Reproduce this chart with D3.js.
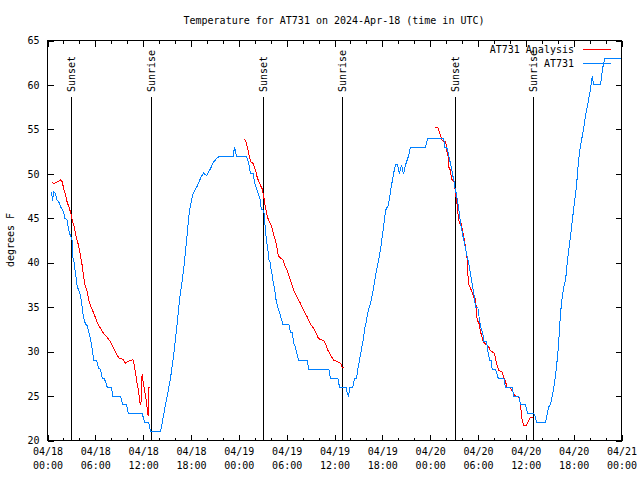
<!DOCTYPE html>
<html><head><meta charset="utf-8">
<script src="https://cdn.jsdelivr.net/npm/d3@7"></script>
<style>
body{margin:0;background:#fff}
svg{display:block}
text{font-family:"DejaVu Sans Mono","Liberation Mono",monospace;font-size:10px;fill:#000}
</style></head><body>
<svg id="c" width="640" height="480"></svg>
<script>
const title = "Temperature for AT731 on 2024-Apr-18 (time in UTC)";
const yLabel = "degrees F";
const startTime = "2024-04-18T00:00:00Z";
const endTime = "2024-04-21T00:00:00Z";
const yTicks = [20, 25, 30, 35, 40, 45, 50, 55, 60, 65];
const xTickHours = [0, 6, 12, 18, 24, 30, 36, 42, 48, 54, 60, 66, 72];
const xMinorHours = [2, 4, 8, 10, 14, 16, 20, 22, 26, 28, 32, 34, 38, 40, 44, 46, 50, 52, 56, 58, 62, 64, 68, 70];
const seriesNames = ["AT731 Analysis", "AT731"];
const seriesColors = ["#ff0000", "#0080ff"];
const sunLabels = ["Sunset", "Sunrise", "Sunset", "Sunrise", "Sunset", "Sunrise"];
const sunHours = [3.01, 13.05, 27.1, 37.0, 51.2, 60.95];

// AT731 observations (hours after start, degrees F)
const obsHours = [0.50,0.63,0.79,1.00,1.22,1.44,1.63,1.88,2.04,2.17,2.47,2.67,2.89,3.10,3.11,3.30,3.51,3.73,3.93,4.14,4.23,4.43,4.55,4.77,4.98,5.18,5.39,5.61,5.81,6.15,6.44,6.65,6.86,7.11,7.36,7.49,8.03,8.19,9.16,9.45,9.91,10.16,11.88,12.21,12.71,12.92,14.17,14.39,14.59,14.80,15.02,15.22,15.43,15.81,16.18,16.56,17.06,17.44,17.81,18.19,18.82,19.19,19.57,19.94,20.45,20.82,21.20,21.58,22.96,23.29,23.46,23.71,24.96,25.25,25.46,25.80,25.97,26.22,26.51,26.72,26.81,27.13,27.22,27.35,27.47,27.63,27.76,27.97,28.06,28.26,28.31,28.47,28.60,28.89,29.14,29.32,29.52,30.27,30.48,30.77,30.82,31.11,31.32,31.52,32.58,32.78,35.29,35.50,36.42,36.63,37.47,37.59,37.76,37.92,38.30,38.51,38.76,38.92,39.17,39.35,39.60,39.80,40.01,40.18,40.30,40.52,40.77,41.14,41.52,41.77,42.15,42.40,42.77,43.02,43.40,43.65,43.90,44.15,44.40,44.66,44.91,45.28,45.53,47.42,47.70,49.71,49.80,50.05,50.21,50.34,50.46,50.64,50.84,50.97,51.09,51.27,51.39,51.52,51.68,51.81,52.02,52.22,52.43,52.65,52.85,53.06,53.27,53.48,53.69,53.98,54.19,54.40,54.61,54.73,55.07,55.23,55.48,55.66,55.78,56.20,56.54,57.24,57.45,58.29,58.49,59.12,59.33,59.96,60.25,61.00,61.21,61.34,62.47,62.68,62.88,63.10,63.31,63.51,63.72,63.85,64.01,64.14,64.26,64.35,64.56,64.77,64.98,65.23,65.61,65.98,66.36,66.61,66.86,67.24,67.49,67.86,68.11,68.33,68.49,69.37,69.58,69.74,69.93,71.88];
const obsTemps = [48,47,48,47.8,47,46.8,46.3,46,45.6,45,44.8,43.6,43,42.5,40.8,40.3,38.8,37.3,36.9,36.3,35.8,34.4,33.7,33.1,32.9,32.2,31.4,30.3,29,29,28.1,28,27,27,26.4,26,26,25,25,24,24,23,23,22,22,21,21,22,23,24,25,26,27,29.5,32.4,35.8,39.1,42.5,45.9,47.6,48.7,49.5,50.1,49.8,50.6,51.3,51.7,52,52,52,53,52,52,51.1,50,50,49,48.3,47.6,47,46,45.9,44.8,43.6,42.5,41.6,40.4,39.9,39.1,38.4,37.6,37.3,36.1,35,34.3,33.7,33.1,33.1,32.2,32.1,31.1,30.5,29.6,29,29,28,28,27,27,26,26,25.4,25,26,26,27,27,28,29.2,30.1,31.3,32.6,33.5,34.4,34.8,35.4,36.5,38.5,40.2,41.5,44,45.9,46.5,48,50,51,51,50,51,50,51,52,53,53,54,54,53,53,52.6,52,51.5,50.8,49.8,49.3,48.5,47.8,47.2,46.4,45.5,44.4,43.4,42.5,41.6,40.6,39.9,38.8,37.6,36.5,35,35,33.5,32.6,32,31.1,31.1,30.1,29,29,28,28,27,27,26,26,25,25,24,24,23,23,22.6,22,22,23,23.8,24.1,25,26,27.3,28.3,29.8,31.3,33.1,34.3,36.1,37.3,38,40.3,43,45.9,48.7,51.5,53.2,55,56.6,58.3,59.5,61,60,60,61.5,62.4,63,63];

// AT731 Analysis (null = gap between analysis runs)
const anaHours = [0.50,0.79,1.00,1.29,1.63,1.84,2.04,2.26,2.47,2.67,2.89,3.10,3.30,3.51,3.73,3.93,4.14,4.35,4.48,4.68,4.98,5.18,5.48,5.81,6.23,6.65,7.06,7.49,7.90,8.32,8.74,8.94,9.50,9.78,10.07,10.41,10.70,10.83,10.95,11.13,11.25,11.38,11.50,11.58,11.67,11.73,11.79,11.88,11.95,12.08,12.21,12.38,12.51,12.58,12.67,12.71,12.88,
  null,
  24.62,24.84,24.96,25.13,25.25,25.38,25.55,25.80,25.97,26.09,26.31,26.51,26.72,26.93,27.13,27.26,27.43,27.56,27.76,27.97,28.19,28.39,28.60,28.81,28.94,29.23,29.57,29.77,29.98,30.14,30.39,30.69,30.90,31.32,31.74,32.15,32.58,32.99,33.40,33.74,33.91,34.16,34.66,34.87,35.09,35.50,35.91,36.34,36.75,36.97,37.13,
  null,
  48.67,48.96,49.08,49.30,49.51,49.71,49.93,50.05,50.14,50.26,50.34,50.55,50.64,50.77,50.97,51.09,51.18,51.31,51.39,51.52,51.59,51.72,51.89,52.02,52.14,52.31,52.43,52.56,52.65,52.72,52.85,52.93,53.06,53.27,53.48,53.69,53.81,53.90,54.10,54.32,54.53,54.66,54.86,55.16,55.36,55.57,55.91,56.07,56.20,56.41,56.61,57.04,57.24,57.45,57.66,58.08,58.29,58.49,58.71,59.04,59.21,59.33,59.46,59.54,59.75,60.05,60.17,60.37,60.59,60.93];
const anaTemps = [49.1,48.9,49,49.1,49.3,49.1,48.3,47.6,46.8,46.3,45.7,44.8,44.2,43.3,42.5,41.8,40.8,39.7,38.8,37.6,36.7,35.8,35,34.3,33.3,32.6,32,31.6,31.1,30.3,29.6,29.3,29.1,28.7,28.9,29,29.1,28.7,28.1,27.1,26.4,25.8,25,24.3,24.1,24.3,27.1,27.3,26.8,26.2,25.4,24.5,23.6,22.9,22.8,26,26,
  null,
  53.9,53.75,53.4,52.8,52.25,51.7,51.25,51.2,50.75,50.4,49.6,49.1,48.7,48.3,47.4,46.6,45.9,45.2,44.75,44.4,43.8,43.1,42.5,41.6,40.8,40.55,40.25,39.7,39.3,38.9,38.2,37.4,36.9,36.1,35.4,34.6,33.9,33.1,32.6,32,31.6,31.4,31.25,30.9,30.3,29.6,29,28.9,28.7,28.25,28.2,
  null,
  55.25,55.2,54.9,54.3,53.75,53.6,53.6,53,52.25,51.9,50.75,50.4,49.6,49.3,49.2,48.5,47.75,47,46.4,45.3,44.75,44.4,44.4,43.8,43.25,42.5,41.75,41,40.4,38.75,37.5,37.4,37.1,36.7,36.1,36,34.6,33.5,33.3,32.2,31.6,31.1,30.9,30.7,30.5,30.1,29.9,29.8,29.2,28.4,27.9,27.7,27.1,26.6,26,25.9,25.6,25.25,25,25,24.7,23.9,23,22.25,21.7,21.7,21.9,22.25,22.6,22.6];

const svg = d3.select("#c");
const L = 47, R = 621, T = 40, B = 440;
const t0 = new Date(startTime), t1 = new Date(endTime);
const hr = h => new Date(t0.getTime() + h * 3600000);
const x = d3.scaleUtc().domain([t0, t1]).range([L, R]);
const y = d3.scaleLinear().domain([20, 65]).range([B, T]);

const g = svg.append("g").attr("transform", "translate(0.5,0.5)");

// axes
const fmtD = d3.utcFormat("%m/%d"), fmtT = d3.utcFormat("%H:%M");
const xb = g.append("g").attr("transform", `translate(0,${B})`)
  .call(d3.axisBottom(x).tickValues(xTickHours.map(hr)).tickSize(-6).tickPadding(8).tickFormat(""));
xb.selectAll(".tick text").each(function(d){
  const t = d3.select(this).attr("dy", null).attr("y", 14);
  t.append("tspan").attr("x", 0).attr("dy", 0).text(fmtD(d));
  t.append("tspan").attr("x", 0).attr("dy", 14).text(fmtT(d));
});
g.append("g").attr("transform", `translate(0,${B})`)
  .call(d3.axisBottom(x).tickValues(xMinorHours.map(hr)).tickSize(-3).tickFormat(""));
g.append("g").attr("transform", `translate(0,${T})`)
  .call(d3.axisTop(x).tickValues(xTickHours.map(hr)).tickSize(-6).tickFormat(""));
g.append("g").attr("transform", `translate(0,${T})`)
  .call(d3.axisTop(x).tickValues(xMinorHours.map(hr)).tickSize(-3).tickFormat(""));
g.append("g").attr("transform", `translate(${L},0)`)
  .call(d3.axisLeft(y).tickValues(yTicks).tickSize(-6).tickPadding(8).tickFormat(d3.format("d")));
g.append("g").attr("transform", `translate(${R},0)`)
  .call(d3.axisRight(y).tickValues(yTicks).tickSize(-6).tickFormat(""));
g.selectAll(".domain").remove();
g.selectAll(".tick line").attr("stroke", "#000").attr("shape-rendering", "crispEdges");
g.selectAll(".tick text").attr("font-family", null).attr("font-size", null).attr("fill", "#000");

// frame
g.append("rect").attr("x", L).attr("y", T).attr("width", R - L).attr("height", B - T)
  .attr("fill", "none").attr("stroke", "#000").attr("shape-rendering", "crispEdges");

// sunrise / sunset markers
const lineTop = B - 0.86 * (B - T), labelAt = B - 0.87 * (B - T);
sunHours.forEach((h, i) => {
  const xp = x(hr(h));
  g.append("line").attr("x1", xp).attr("x2", xp).attr("y1", B).attr("y2", lineTop)
    .attr("stroke", "#000").attr("shape-rendering", "crispEdges");
  svg.append("text").attr("transform", `translate(${Math.round(xp)+0.5},${labelAt}) rotate(-90)`)
    .attr("dominant-baseline", "central").attr("text-anchor", "start").text(sunLabels[i]);
});

// data lines
const line = d3.line().defined(d => d[1] != null).x(d => x(hr(d[0]))).y(d => y(d[1]));
const ana = anaHours.map((h, i) => [h, anaTemps[i]]);
const obs = obsHours.map((h, i) => [h, obsTemps[i]]);
g.append("path").datum(ana).attr("d", line).attr("fill", "none")
  .attr("stroke", seriesColors[0]).attr("stroke-width", 1).attr("shape-rendering", "crispEdges");
g.append("path").datum(obs).attr("d", line).attr("fill", "none")
  .attr("stroke", seriesColors[1]).attr("stroke-width", 1).attr("shape-rendering", "crispEdges");

// legend
const legY = [49, 63];
seriesNames.forEach((n, i) => {
  svg.append("text").attr("x", 574).attr("y", legY[i]).attr("text-anchor", "end")
    .attr("dominant-baseline", "central").text(n);
  g.append("line").attr("x1", 582).attr("x2", 610).attr("y1", legY[i]).attr("y2", legY[i])
    .attr("stroke", seriesColors[i]).attr("shape-rendering", "crispEdges");
});

// title and y label
svg.append("text").attr("x", (L + R) / 2).attr("y", 20).attr("text-anchor", "middle")
  .attr("dominant-baseline", "central").text(title);
svg.append("text").attr("transform", `translate(10,${(T + B) / 2}) rotate(-90)`)
  .attr("text-anchor", "middle").attr("dominant-baseline", "central").text(yLabel);
</script></body></html>
